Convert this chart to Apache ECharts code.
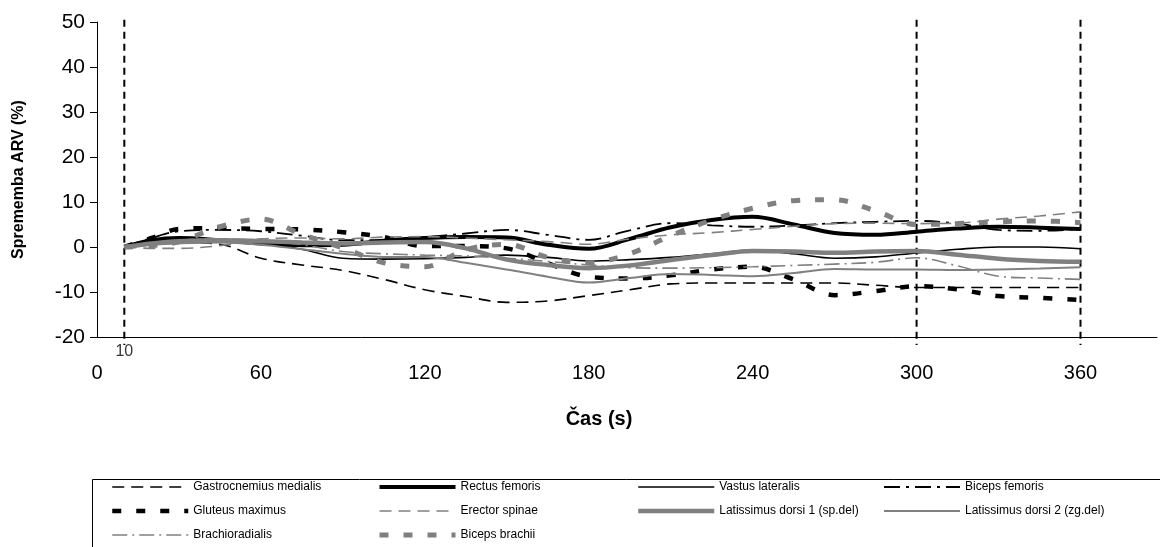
<!DOCTYPE html>
<html>
<head>
<meta charset="utf-8">
<script src="https://cdn.jsdelivr.net/npm/echarts@6/dist/echarts.min.js"></script>
<style>
  html, body { margin: 0; padding: 0; background: #fff; }
  #chart { width: 1160px; height: 547px; }
</style>
</head>
<body>
<div id="chart"></div>
<script>
// Sampling times (s)
const times = [10, 20, 30, 45, 60, 75, 90, 105, 120, 135, 150, 165, 180, 195, 210, 225, 240, 255, 270, 285, 300, 315, 330, 345, 360];

// ARV change (%) per muscle
const gastrocnemius = [0, 0.5, 1, 0.6, -2.5, -4, -5.2, -7.2, -9.5, -11, -12.3, -12, -10.8, -9.5, -8.2, -8, -8, -8, -8, -8.5, -9, -9, -9, -9, -9];
const rectusFemoris = [0, 1.5, 2, 1.5, 0.8, 0.4, 0.5, 1.4, 2, 2.2, 2.1, 0.5, -0.4, 1.8, 4.4, 6, 6.7, 5, 3.1, 2.7, 3.4, 4.1, 4.5, 4.3, 4];
const vastusLateralis = [0, 0.8, 1.5, 1.5, 0.8, -0.5, -2.5, -2.7, -2.6, -2.3, -1.8, -2.3, -3.1, -2.8, -2.3, -1.5, -0.7, -1.5, -2.5, -2.2, -1.3, -0.5, 0, 0, -0.4];
const bicepsFemoris = [0, 2, 3.5, 3.8, 3.5, 2.5, 1.5, 1.5, 2.2, 3, 3.8, 2.7, 1.6, 3.7, 5.3, 4.8, 4.5, 4.8, 5.3, 5.6, 5.8, 5.2, 3.8, 3.6, 4];
const gluteusMaximus = [0, 2, 4, 4.2, 4, 3.9, 3.3, 2.2, 0.2, 0.2, -0.3, -3.6, -6.6, -7, -6.3, -5, -4.4, -7.2, -10.7, -9.8, -8.7, -9.4, -10.9, -11.3, -11.8];
const erectorSpinae = [0, -0.3, -0.3, 0.3, 1.8, 2, 1.8, 2.2, 2.3, 2, 1.6, 1.2, 0.6, 1.8, 2.7, 3.2, 3.9, 4.6, 5.2, 5.3, 5.2, 5.3, 6.2, 6.9, 7.8];
const latDorsi1 = [0, 0.8, 1.3, 1.5, 1.3, 1, 0.8, 1, 1.1, -0.3, -2.8, -4, -4.7, -4.1, -2.9, -1.8, -0.9, -1, -1.3, -1, -0.9, -1.7, -2.6, -3.1, -3.3];
const latDorsi2 = [0, 0.5, 0.8, 1, 0.5, -0.5, -1.5, -2.2, -2.2, -3.5, -5, -6.6, -7.9, -6.9, -6, -6.2, -6.5, -5.8, -4.9, -5, -5, -5.1, -5, -4.8, -4.5];
const brachioradialis = [0, 0.5, 1.5, 1.8, 1.5, 0.5, -1, -1.5, -1.8, -2, -2.5, -3.2, -4, -4.6, -4.7, -4.6, -4.4, -4.1, -3.8, -3.4, -2.4, -4.2, -6.5, -6.9, -7.2];
const bicepsBrachii = [0, 0.3, 1.2, 4.5, 6.2, 2.8, -0.2, -3.5, -4.4, -0.6, 0.6, -2.3, -3.5, -1.5, 2.5, 6, 8.6, 10.3, 10.5, 8, 5, 5.2, 5.6, 5.8, 5.4];

// Vertical reference times (s)
const markTimes = [10, 300, 360];

// Axis ranges and tick labels
const xMin = 0, xMax = 388, xStep = 60;
const yMin = -20, yMax = 50, yStep = 10;
const xTickLabels = [0, 60, 120, 180, 240, 300, 360];

const BLACK = '#000000';
const GREY = '#808080';
const FONT = 'Liberation Sans, Arial, sans-serif';

const pair = vals => vals.map((v, i) => [times[i], v]);

function muscle(name, vals, color, width, type) {
  return {
    name, type: 'line', data: pair(vals), smooth: 0.35,
    symbol: 'none', z: 3,
    lineStyle: { color, width, type, cap: 'butt' },
    itemStyle: { color }
  };
}

const series = [
  muscle('Gastrocnemius medialis', gastrocnemius, BLACK, 1.6, [12, 7]),
  muscle('Rectus femoris', rectusFemoris, BLACK, 4),
  muscle('Vastus lateralis', vastusLateralis, BLACK, 1.6),
  muscle('Biceps femoris', bicepsFemoris, BLACK, 1.8, [16, 6, 3, 6]),
  muscle('Gluteus maximus', gluteusMaximus, BLACK, 4.5, [9, 15]),
  muscle('Erector spinae', erectorSpinae, GREY, 1.6, [12, 7]),
  muscle('Latissimus dorsi 1 (sp.del)', latDorsi1, GREY, 4.5),
  muscle('Latissimus dorsi 2 (zg.del)', latDorsi2, GREY, 2),
  muscle('Brachioradialis', brachioradialis, GREY, 1.6, [15, 5, 2, 5]),
  muscle('Biceps brachii', bicepsBrachii, GREY, 5, [9, 15])
];

// Dashed vertical markers
markTimes.forEach(t => {
  series.push({
    type: 'line', data: [[t, 50.5], [t, -21.8]], symbol: 'none', clip: false,
    silent: true, z: 2,
    lineStyle: { color: BLACK, width: 2, type: [7, 5] }
  });
});

// Label of the first marker, just under the axis
series.push({
  type: 'scatter', data: [[markTimes[0], yMin]], symbolSize: 1, silent: true,
  itemStyle: { color: 'rgba(0,0,0,0)' },
  label: {
    show: true, position: 'bottom', distance: 6, formatter: String(markTimes[0]),
    color: BLACK, fontSize: 16, fontFamily: FONT
  }
});

const legendBase = {
  orient: 'vertical', itemWidth: 76, itemHeight: 10, itemGap: 12, padding: 0,
  selectedMode: false, top: 481,
  itemStyle: { opacity: 0 },
  lineStyle: { width: 'inherit', type: 'inherit', color: 'inherit', cap: 'butt' },
  textStyle: { fontSize: 12, color: BLACK, fontFamily: FONT }
};

const chart = echarts.init(document.getElementById('chart'));
chart.setOption({
  animation: false,
  backgroundColor: '#fff',
  textStyle: { fontFamily: FONT },
  grid: { left: 97, right: 0, top: 22, bottom: 210 },
  xAxis: {
    type: 'value', min: xMin, max: xMax, interval: xStep,
    name: 'Čas (s)', nameLocation: 'middle', nameGap: 72,
    nameTextStyle: { fontSize: 20, fontWeight: 'bold', color: BLACK, padding: [0, 56, 0, 0] },
    axisLine: { onZero: false, lineStyle: { color: BLACK, width: 1 } },
    axisTick: { show: false },
    splitLine: { show: false },
    axisLabel: {
      fontSize: 20, color: BLACK, margin: 26,
      formatter: v => (xTickLabels.indexOf(v) >= 0 ? String(v) : '')
    }
  },
  yAxis: {
    type: 'value', min: yMin, max: yMax, interval: yStep,
    name: 'Sprememba ARV (%)', nameLocation: 'middle', nameGap: 70,
    nameTextStyle: { fontSize: 16, fontWeight: 'bold', color: BLACK },
    axisLine: { show: true, onZero: false, lineStyle: { color: BLACK, width: 1 } },
    axisTick: { show: true, length: 7, lineStyle: { color: BLACK } },
    splitLine: { show: false },
    axisLabel: { fontSize: 21, color: BLACK, margin: 12 }
  },
  legend: [
    Object.assign({}, legendBase, { left: 110, data: ['Gastrocnemius medialis', 'Gluteus maximus', 'Brachioradialis'] }),
    Object.assign({}, legendBase, { left: 377, data: ['Rectus femoris', 'Erector spinae', 'Biceps brachii'] }),
    Object.assign({}, legendBase, { left: 636, data: ['Vastus lateralis', 'Latissimus dorsi 1 (sp.del)'] }),
    Object.assign({}, legendBase, { left: 883, data: ['Biceps femoris', 'Latissimus dorsi 2 (zg.del)'] })
  ],
  graphic: [{
    type: 'rect', left: 90, top: 477,
    shape: { width: 1069, height: 80 },
    style: { fill: 'none', stroke: BLACK, lineWidth: 1 }, silent: true
  }],
  series
});
</script>
</body>
</html>
